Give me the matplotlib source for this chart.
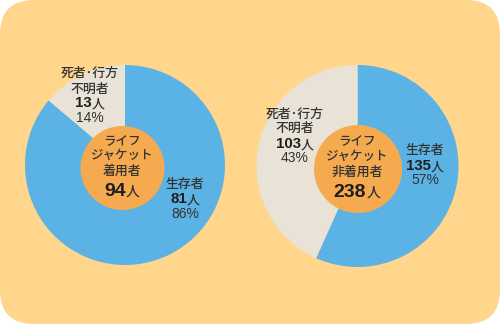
import matplotlib
matplotlib.use("Agg")
import matplotlib.pyplot as plt
from matplotlib.patches import FancyBboxPatch, Circle

plt.rcParams['font.family'] = ['Noto Sans CJK JP', 'DejaVu Sans']
LATIN = ['Liberation Sans', 'Noto Sans CJK JP']

# data
groups = ['着用者', '非着用者']
survivors = [81, 135]
missing = [13, 103]
survivor_label = '生存者'
missing_label = ['死者･行方', '不明者']
center_label = ['ライフ', 'ジャケット']

W, H = 500, 324
BG = '#ffd68b'
BLUE = '#5bb2e5'
BEIGE = '#e8e3d6'
ORANGE = '#f5aa50'
TXT = '#333333'
NUM = '#1e1e1e'

fig = plt.figure(figsize=(5, 3.24), dpi=100)
ax = fig.add_axes([0, 0, 1, 1])
ax.set_xlim(0, W)
ax.set_ylim(0, H)
ax.set_aspect('equal')
ax.axis('off')

ax.add_patch(FancyBboxPatch((0, 0), W, H, boxstyle='round,pad=0,rounding_size=34',
                            fc=BG, ec='none', zorder=0))

renderer = fig.canvas.get_renderer()


def line(x, y, pieces):
    # pieces: (text, size, weight, color, family); y is pixel baseline from the top
    ts = [ax.text(0, H - y, s, fontsize=fs, fontweight=fw, color=c, family=fam,
                  ha='left', va='baseline', zorder=5)
          for s, fs, fw, c, fam in pieces]
    ws = [t.get_window_extent(renderer=renderer).width for t in ts]
    x0 = x - sum(ws) / 2
    for t, w in zip(ts, ws):
        t.set_x(x0)
        x0 += w


def jp(s, fs=9.3):
    return (s, fs, 'medium', TXT, plt.rcParams['font.family'])


def num(s, fs=10.8):
    return (s, fs, 'bold', NUM, LATIN)


def pct(s):
    return (s, 10, 'normal', TXT, LATIN)


# layout per chart (pixel coordinates, y from top)
layout = [
    dict(pie=(125, 165, 100), hole=(122.5, 168, 42),
         miss_xy=(90, [77, 93, 107, 122]), ctr_xy=(122, [145, 159, 175, 196]),
         surv_xy=(185, [188, 203, 218])),
    dict(pie=(357.5, 166, 101), hole=(358, 169, 44),
         miss_xy=(295, [118, 132, 148, 162]), ctr_xy=(357, [145, 160, 176, 197]),
         surv_xy=(425, [154, 170, 184])),
]

for i, lay in enumerate(layout):
    cx, cy, r = lay['pie']
    ax.pie([survivors[i], missing[i]], colors=[BLUE, BEIGE], startangle=90,
           counterclock=False, center=(cx, H - cy), radius=r,
           wedgeprops=dict(linewidth=0), frame=True)
    hx, hy, hr = lay['hole']
    ax.add_patch(Circle((hx, H - hy), hr, fc=ORANGE, ec='none', zorder=3))

    total = survivors[i] + missing[i]
    p_surv = round(100 * survivors[i] / total)
    p_miss = round(100 * missing[i] / total)

    x, ys = lay['miss_xy']
    line(x, ys[0], [jp(missing_label[0])])
    line(x, ys[1], [jp(missing_label[1])])
    line(x, ys[2], [num(str(missing[i])), jp('人')])
    line(x, ys[3], [pct(f'{p_miss}%')])

    x, ys = lay['surv_xy']
    line(x, ys[0], [jp(survivor_label)])
    line(x, ys[1], [num(str(survivors[i])), jp('人')])
    line(x, ys[2], [pct(f'{p_surv}%')])

    x, ys = lay['ctr_xy']
    line(x, ys[0], [jp(center_label[0], 9)])
    line(x, ys[1], [jp(center_label[1], 9)])
    line(x, ys[2], [jp(groups[i])])
    line(x, ys[3], [num(str(total), 14), jp('人', 10)])

ax.set_xlim(0, W)
ax.set_ylim(0, H)
ax.axis('off')

fig.savefig('out.png', dpi=100, facecolor='white')
